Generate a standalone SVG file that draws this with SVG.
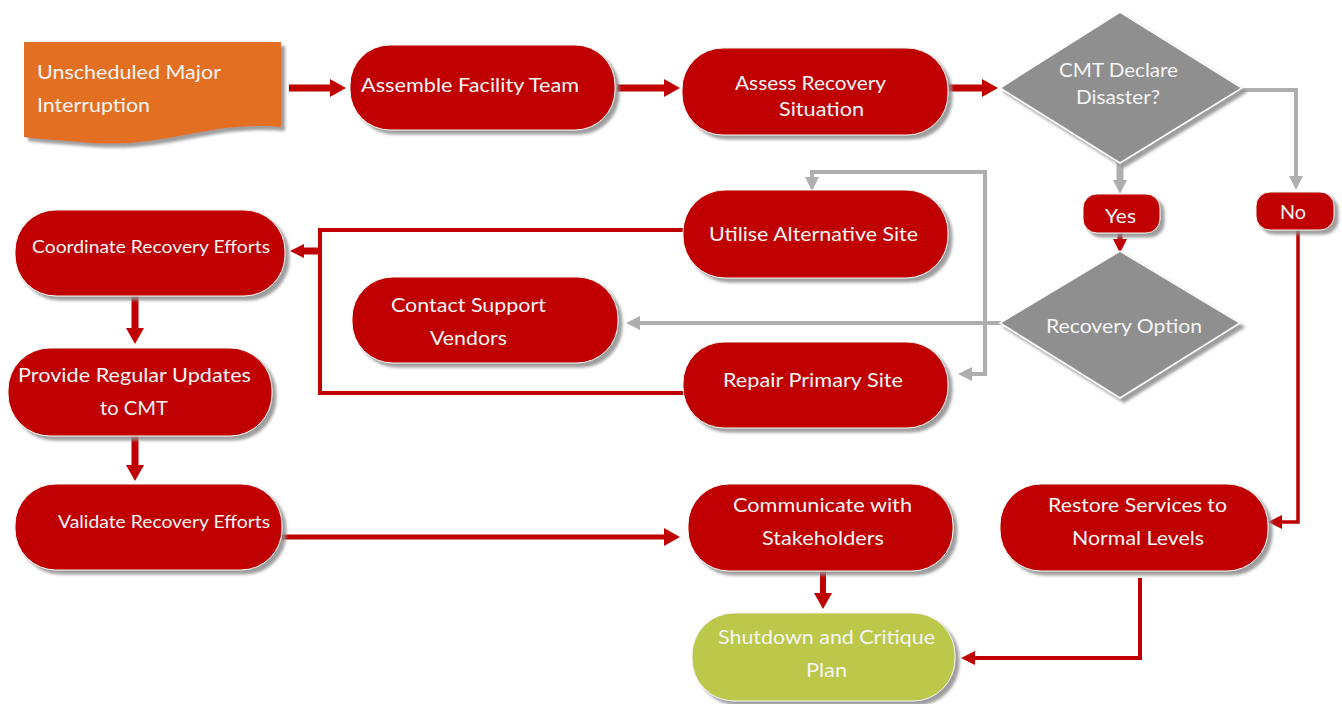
<svg xmlns="http://www.w3.org/2000/svg" width="1342" height="704" viewBox="0 0 1342 704">
  <defs>
    <filter id="shadow" x="-10%" y="-10%" width="125%" height="130%">
      <feDropShadow dx="4" dy="4" stdDeviation="1.4" flood-color="#8c8c8c" flood-opacity="0.85"/>
    </filter>
    <marker id="headRed" markerUnits="userSpaceOnUse" markerWidth="16" markerHeight="18" refX="0" refY="9" orient="auto">
      <path d="M0,0 L16,9 L0,18 Z" fill="#c00000"/>
    </marker>
    <marker id="headRedSm" markerUnits="userSpaceOnUse" markerWidth="14" markerHeight="14" refX="0" refY="7" orient="auto">
      <path d="M0,0 L14,7 L0,14 Z" fill="#c00000"/>
    </marker>
    <marker id="headGrey" markerUnits="userSpaceOnUse" markerWidth="14" markerHeight="14" refX="0" refY="7" orient="auto">
      <path d="M0,0 L14,7 L0,14 Z" fill="#aeaeae"/>
    </marker>
  </defs>
  <style>
    .pill { fill: #c00000; stroke: #f4f4f4; stroke-width: 1; filter: url(#shadow); }
    .green { fill: #bcc84a; stroke: #f4f4f4; stroke-width: 1; filter: url(#shadow); }
    .doc { fill: #e36f22; filter: url(#shadow); }
    .dia { fill: #8f8f8f; stroke: #ffffff; stroke-width: 1.5; filter: url(#shadow); }
    text { font-family: Lato, "Open Sans", "Liberation Sans", sans-serif; font-size: 19px; fill: #f5f5f5; }
    .sm { font-size: 17px; }
    .red { fill: none; stroke: #c00000; stroke-linejoin: miter; }
    .grey { fill: none; stroke: #aeaeae; stroke-linejoin: miter; }
  </style>
  <rect width="1342" height="704" fill="#ffffff"/>

  <!-- connectors -->
  <g id="connectors">
    <path class="red" stroke-width="7" d="M289,88 H330" marker-end="url(#headRed)"/>
    <path class="red" stroke-width="7" d="M617,88 H664" marker-end="url(#headRed)"/>
    <path class="red" stroke-width="7" d="M948,88 H982" marker-end="url(#headRed)"/>
    <path class="grey" stroke-width="4" d="M1240,90 H1296 V176" marker-end="url(#headGrey)"/>
    <path class="grey" stroke-width="7" d="M1120,160 V180" marker-end="url(#headGrey)"/>
    <path class="red" stroke-width="5" d="M1120,233 V239" marker-end="url(#headRedSm)"/>
    <path class="red" stroke-width="3.5" d="M1298,230 V522 H1282" marker-end="url(#headRedSm)"/>
    <path class="grey" stroke-width="4" d="M1002,323 H640" marker-end="url(#headGrey)"/>
    <path class="grey" stroke-width="4" d="M985,323 V172 H812 V177" marker-end="url(#headGrey)"/>
    <path class="grey" stroke-width="4" d="M985,323 V374 H972" marker-end="url(#headGrey)"/>
    <path class="red" stroke-width="4" d="M683,230 H320 V393 H683"/>
    <path class="red" stroke-width="7" d="M322,251 H304" marker-end="url(#headRedSm)"/>
    <path class="red" stroke-width="7" d="M135,296 V328" marker-end="url(#headRed)"/>
    <path class="red" stroke-width="7" d="M135,436 V465" marker-end="url(#headRed)"/>
    <path class="red" stroke-width="5" d="M282,537 H664" marker-end="url(#headRed)"/>
    <path class="red" stroke-width="6" d="M823,571 V593" marker-end="url(#headRed)"/>
    <path class="red" stroke-width="4" d="M1140,578 V658 H975" marker-end="url(#headRedSm)"/>
  </g>

  <!-- start: document shape -->
  <g id="n-start">
    <path class="doc" d="M24,42 H281 V127 C250,124 220,128 190,134 C150,142 120,146 80,142 C55,140 38,139 24,137 Z"/>
    <text x="37" y="79" textLength="184" lengthAdjust="spacingAndGlyphs">Unscheduled Major</text>
    <text x="37" y="112" textLength="113" lengthAdjust="spacingAndGlyphs">Interruption</text>
  </g>

  <g id="n-assemble">
    <rect class="pill" x="350" y="45" width="265" height="85" rx="40"/>
    <text x="361" y="92" textLength="218" lengthAdjust="spacingAndGlyphs">Assemble Facility Team</text>
  </g>

  <g id="n-assess">
    <rect class="pill" x="682" y="48" width="266" height="87" rx="41"/>
    <text x="735" y="90" textLength="151" lengthAdjust="spacingAndGlyphs">Assess Recovery</text>
    <text x="779" y="116" textLength="85" lengthAdjust="spacingAndGlyphs">Situation</text>
  </g>

  <g id="n-declare">
    <polygon class="dia" points="1000,88 1120,12 1242,88 1120,163"/>
    <text x="1059" y="77" textLength="119" lengthAdjust="spacingAndGlyphs">CMT Declare</text>
    <text x="1076" y="104" textLength="84" lengthAdjust="spacingAndGlyphs">Disaster?</text>
  </g>

  <g id="n-yes">
    <rect class="pill" x="1083" y="194" width="77" height="39" rx="14"/>
    <text x="1105" y="223" textLength="31" lengthAdjust="spacingAndGlyphs">Yes</text>
  </g>

  <g id="n-no">
    <rect class="pill" x="1256" y="192" width="78" height="38" rx="14"/>
    <text x="1280" y="219" textLength="26" lengthAdjust="spacingAndGlyphs">No</text>
  </g>

  <g id="n-option">
    <polygon class="dia" points="1000,323 1120,251 1240,323 1120,398"/>
    <text x="1046" y="333" textLength="156" lengthAdjust="spacingAndGlyphs">Recovery Option</text>
  </g>

  <g id="n-utilise">
    <rect class="pill" x="683" y="190" width="265" height="88" rx="42"/>
    <text x="709" y="241" textLength="209" lengthAdjust="spacingAndGlyphs">Utilise Alternative Site</text>
  </g>

  <g id="n-vendors">
    <rect class="pill" x="352" y="277" width="266" height="86" rx="41"/>
    <text x="391" y="312" textLength="155" lengthAdjust="spacingAndGlyphs">Contact Support</text>
    <text x="430" y="345" textLength="77" lengthAdjust="spacingAndGlyphs">Vendors</text>
  </g>

  <g id="n-repair">
    <rect class="pill" x="683" y="342" width="265" height="86" rx="41"/>
    <text x="723" y="387" textLength="180" lengthAdjust="spacingAndGlyphs">Repair Primary Site</text>
  </g>

  <g id="n-coordinate">
    <rect class="pill" x="15" y="210" width="270" height="86" rx="41"/>
    <text class="sm" x="32" y="253" textLength="238" lengthAdjust="spacingAndGlyphs">Coordinate Recovery Efforts</text>
  </g>

  <g id="n-updates">
    <rect class="pill" x="8" y="348" width="264" height="88" rx="42"/>
    <text x="18" y="382" textLength="233" lengthAdjust="spacingAndGlyphs">Provide Regular Updates</text>
    <text x="100" y="415" textLength="68" lengthAdjust="spacingAndGlyphs">to CMT</text>
  </g>

  <g id="n-validate">
    <rect class="pill" x="15" y="484" width="267" height="86" rx="41"/>
    <text class="sm" x="58" y="528" textLength="212" lengthAdjust="spacingAndGlyphs">Validate Recovery Efforts</text>
  </g>

  <g id="n-communicate">
    <rect class="pill" x="688" y="484" width="265" height="87" rx="41"/>
    <text x="733" y="512" textLength="179" lengthAdjust="spacingAndGlyphs">Communicate with</text>
    <text x="762" y="545" textLength="122" lengthAdjust="spacingAndGlyphs">Stakeholders</text>
  </g>

  <g id="n-restore">
    <rect class="pill" x="1000" y="484" width="268" height="87" rx="41"/>
    <text x="1048" y="512" textLength="179" lengthAdjust="spacingAndGlyphs">Restore Services to</text>
    <text x="1072" y="545" textLength="132" lengthAdjust="spacingAndGlyphs">Normal Levels</text>
  </g>

  <g id="n-shutdown">
    <rect class="green" x="692" y="613" width="263" height="88" rx="42"/>
    <text x="718" y="644" textLength="217" lengthAdjust="spacingAndGlyphs">Shutdown and Critique</text>
    <text x="806" y="677" textLength="41" lengthAdjust="spacingAndGlyphs">Plan</text>
  </g>
</svg>
